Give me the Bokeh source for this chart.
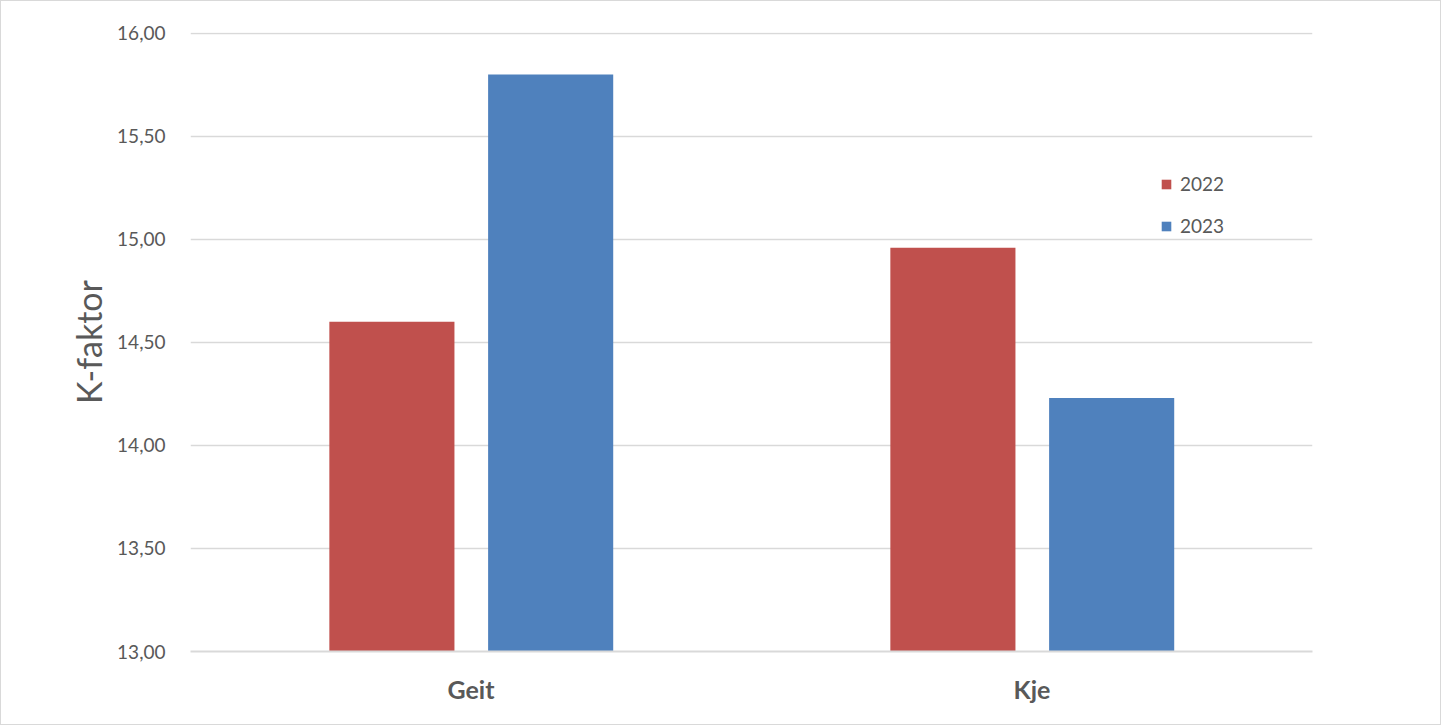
from bokeh.plotting import figure
from bokeh.models import ColumnDataSource, FactorRange, Range1d, FixedTicker, Legend, LegendItem
from bokeh.layouts import column
from bokeh.transform import dodge
from bokeh.embed import file_html
from bokeh.resources import INLINE

categories = ["Geit", "Kje"]
series_names = ["2022", "2023"]
values_2022 = [14.60, 14.96]
values_2023 = [15.80, 14.23]
y_ticks = [13.0, 13.5, 14.0, 14.5, 15.0, 15.5, 16.0]
y_tick_labels = ["13,00", "13,50", "14,00", "14,50", "15,00", "15,50", "16,00"]

RED = "#C0504D"
BLUE = "#4F81BD"
TXT = "#595959"
GRID = "#D9D9D9"
FONT = "Lato"

src = ColumnDataSource(dict(cat=categories, v2022=values_2022, v2023=values_2023))

p = figure(width=1439, height=723, output_backend="svg", toolbar_location=None,
           x_range=FactorRange(*categories), y_range=Range1d(13, 16.004),
           min_border_left=189, min_border_right=128, min_border_top=31, min_border_bottom=73)
p.outline_line_color = None
p.background_fill_color = "white"
p.border_fill_color = "white"

r1 = p.vbar(x=dodge("cat", -0.141, range=p.x_range), top="v2022", bottom=13, width=0.223,
            source=src, fill_color=RED, line_color=None)
r2 = p.vbar(x=dodge("cat", 0.142, range=p.x_range), top="v2023", bottom=13, width=0.223,
            source=src, fill_color=BLUE, line_color=None)

# axes
p.yaxis.ticker = FixedTicker(ticks=y_ticks)
p.yaxis.major_label_overrides = {t: l for t, l in zip(y_ticks, y_tick_labels)}
p.yaxis.axis_line_color = None
p.yaxis.major_tick_line_color = None
p.yaxis.minor_tick_line_color = None
p.yaxis.major_label_text_font = FONT
p.yaxis.major_label_text_font_size = "19px"
p.yaxis.major_label_text_color = TXT
p.yaxis.major_label_standoff = 19
p.yaxis.axis_label = "K-faktor"
p.yaxis.axis_label_text_font = FONT
p.yaxis.axis_label_text_font_size = "34px"
p.yaxis.axis_label_text_font_style = "normal"
p.yaxis.axis_label_text_color = TXT
p.yaxis.axis_label_standoff = 5

p.xaxis.axis_line_color = GRID
p.xaxis.axis_line_width = 2
p.xaxis.major_tick_line_color = None
p.xaxis.minor_tick_line_color = None
p.xaxis.major_label_text_font = FONT
p.xaxis.major_label_text_font_size = "25px"
p.xaxis.major_label_text_font_style = "bold"
p.xaxis.major_label_text_color = TXT
p.xaxis.major_label_standoff = 16

p.xgrid.grid_line_color = None
p.ygrid.grid_line_color = GRID
p.ygrid.grid_line_width = 1.5

legend = Legend(items=[LegendItem(label=series_names[0], renderers=[r1]),
                       LegendItem(label=series_names[1], renderers=[r2])],
                location=(970, 414), orientation="vertical",
                glyph_width=12, glyph_height=12, label_height=22, spacing=19,
                padding=0, margin=0, label_standoff=8,
                label_text_font=FONT, label_text_font_size="19px", label_text_color=TXT,
                border_line_color=None, background_fill_alpha=0)
p.add_layout(legend, "center")

layout = column(p, styles={"border": "1px solid #D9D9D9"})

open("out.html", "w").write(file_html(layout, INLINE))
